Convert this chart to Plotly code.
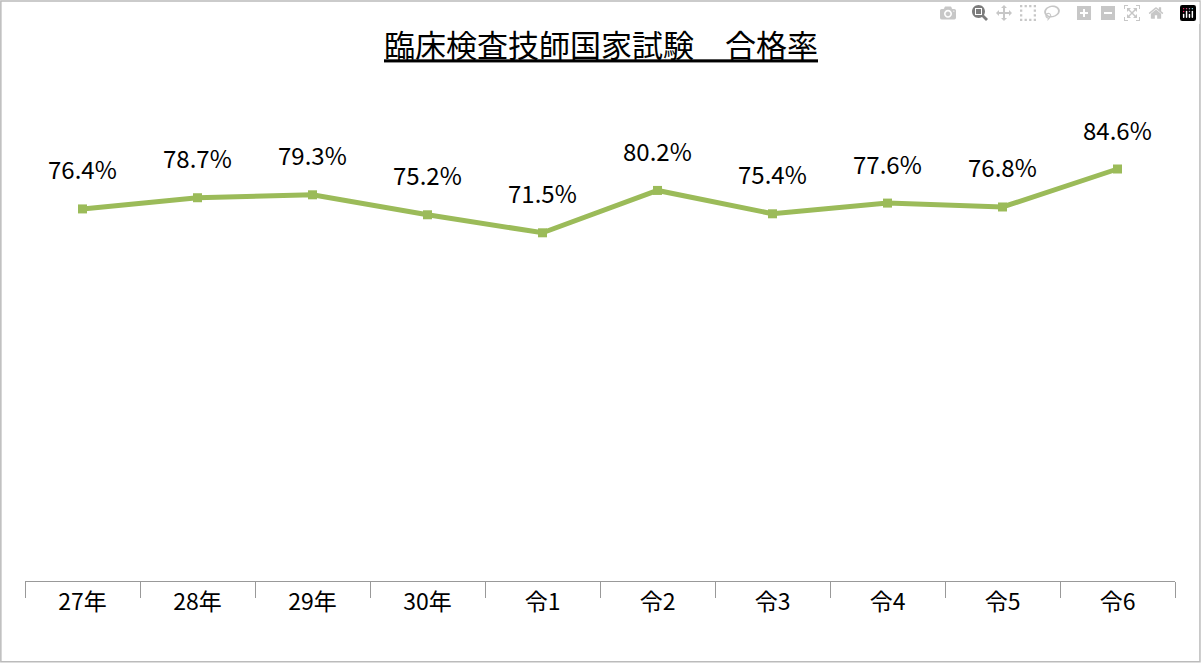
import plotly.graph_objects as go

years = ['27年', '28年', '29年', '30年', '令1', '令2', '令3', '令4', '令5', '令6']
pass_rate = [76.4, 78.7, 79.3, 75.2, 71.5, 80.2, 75.4, 77.6, 76.8, 84.6]
labels = [f'{v:.1f}%' for v in pass_rate]

font = 'Noto Sans CJK JP'

fig = go.Figure(go.Scatter(
    x=years, y=pass_rate, mode='lines+markers',
    line=dict(color='#9BBB59', width=5),
    marker=dict(symbol='square', size=9, color='#9BBB59'),
))

# data labels above each point
for x, y, t in zip(years, pass_rate, labels):
    fig.add_annotation(x=x, y=y, text=t, showarrow=False, yshift=40,
                       font=dict(size=24, color='black', family=font))

fig.update_layout(
    width=1202, height=664,
    margin=dict(l=25, r=27, t=94, b=83),
    paper_bgcolor='white', plot_bgcolor='white',
    showlegend=False,
    title=dict(text='<u>臨床検査技師国家試験　合格率</u>', x=0.5, xanchor='center',
               y=0.93, yanchor='middle',
               font=dict(size=31, color='black', family=font)),
    xaxis=dict(range=[-0.5, 9.5], tickson='boundaries', ticks='outside',
               ticklen=16, tickcolor='#999999', showline=True,
               linecolor='#999999', linewidth=1, showgrid=False,
               tickfont=dict(size=23, color='black', family=font)),
    yaxis=dict(range=[0, 100], visible=False),
    shapes=[dict(type='rect', xref='paper', yref='paper',
                 x0=-0.021, x1=1.0217, y0=-0.166, y1=1.191,
                 line=dict(color='#bbbbbb', width=1.5))],
)

fig.write_html('out.html', post_script="document.body.style.margin='0';")
